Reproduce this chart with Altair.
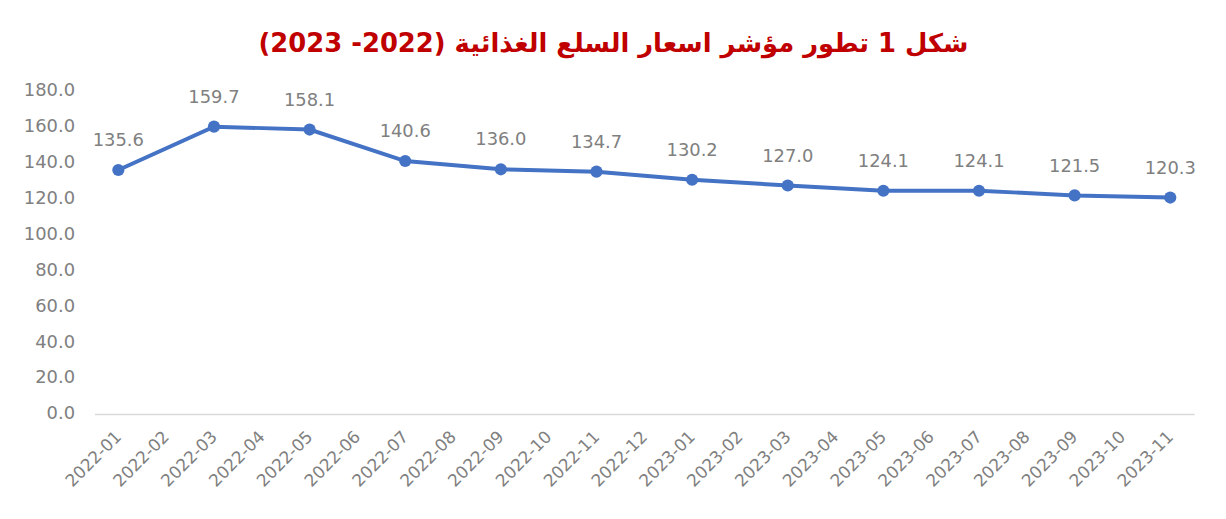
import altair as alt
import pandas as pd

all_months = ["2022-01", "2022-02", "2022-03", "2022-04", "2022-05", "2022-06",
              "2022-07", "2022-08", "2022-09", "2022-10", "2022-11", "2022-12",
              "2023-01", "2023-02", "2023-03", "2023-04", "2023-05", "2023-06",
              "2023-07", "2023-08", "2023-09", "2023-10", "2023-11"]
point_months = ["2022-01", "2022-03", "2022-05", "2022-07", "2022-09", "2022-11",
                "2023-01", "2023-03", "2023-05", "2023-07", "2023-09", "2023-11"]
values = [135.6, 159.7, 158.1, 140.6, 136.0, 134.7, 130.2, 127.0, 124.1, 124.1, 121.5, 120.3]
title_text = "شكل 1 تطور مؤشر اسعار السلع الغذائية (2022- 2023)"

df = pd.DataFrame({"month": point_months, "value": values})
df["label"] = [f"{v:.1f}" for v in values]

FONT = "DejaVu Sans"
GRAY = "#808080"

x = alt.X("month:O", scale=alt.Scale(type="point", domain=all_months, padding=0.5),
          axis=alt.Axis(title=None, labelAngle=-45, labelAlign="right", labelBaseline="middle",
                        labelPadding=20, ticks=False, domainColor="#d9d9d9", domainWidth=1.5,
                        labelFont=FONT, labelFontSize=17, labelColor=GRAY, grid=False))
y = alt.Y("value:Q", scale=alt.Scale(domain=[0, 180], nice=False),
          axis=alt.Axis(title=None, values=list(range(0, 181, 20)), format=".1f", grid=False,
                        domain=False, ticks=False, labelPadding=20, labelFont=FONT,
                        labelFontSize=18, labelColor=GRAY))

base = alt.Chart(df).encode(x=x, y=y)
line = base.mark_line(color="#4472C4", strokeWidth=4)
pts = base.mark_point(filled=True, color="#4472C4", size=150, opacity=1)
txt = base.mark_text(dy=-29, font=FONT, fontSize=18, color=GRAY).encode(text="label:N")

chart = (line + pts + txt).properties(
    width=1107, height=326,
    autosize="none",
    padding={"left": 87, "top": 81, "right": 24, "bottom": 104},
    title=alt.TitleParams(title_text, fontSize=26, fontWeight="bold", color="#C00000",
                          font="DejaVu Sans", anchor="middle", dx=-31, offset=24),
).configure_view(stroke=None)

chart.save("out.html", embed_options={"renderer": "svg", "actions": False})
